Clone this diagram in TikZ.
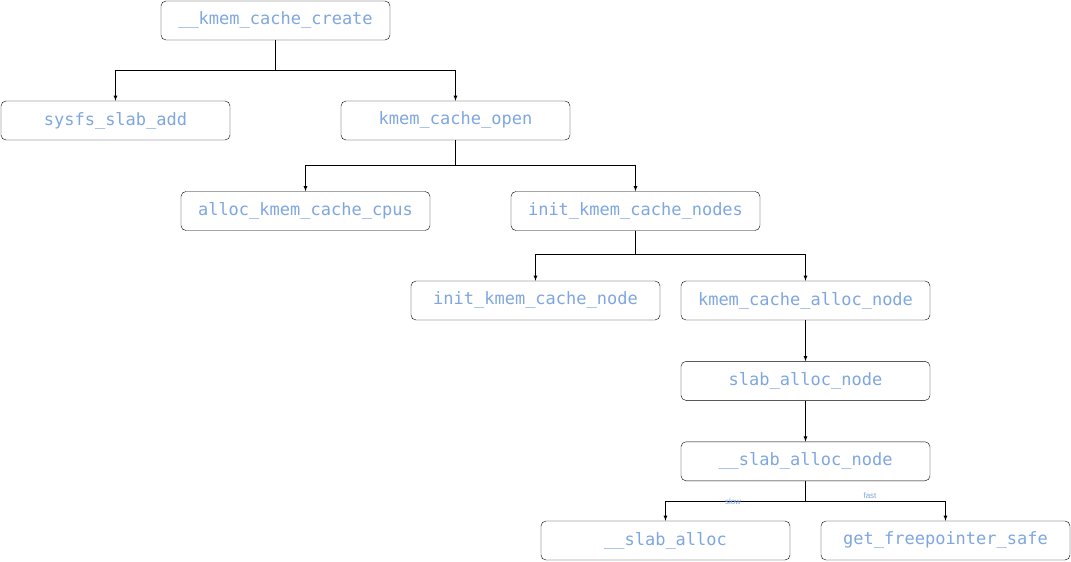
\documentclass[tikz,border=0pt]{standalone}
\usepackage{fontspec}
\setmainfont{Liberation Sans}
\newfontfamily\codefont{DejaVu Sans Mono}
\usetikzlibrary{positioning}
\definecolor{fnblue}{HTML}{7EA6E0}
\begin{document}
\begin{tikzpicture}[x=1pt,y=-1pt,
  fn/.style={draw, rounded corners=5pt, minimum width=249pt, minimum height=39pt,
    inner sep=0pt, text=fnblue, font=\codefont\fontsize{17}{17}\selectfont},
  call/.style={-latex, line width=0.8pt},
  tag/.style={text=fnblue, font=\fontsize{8}{8}\selectfont}]
\useasboundingbox (0,0) rectangle (1071,562);

\node[fn, minimum width=229pt] (create) at (275.5,20.5) {\_\_kmem\_cache\_create};
\node[fn, minimum width=229pt] (sysfs) at (115.5,120.5) {sysfs\_slab\_add};
\node[fn, minimum width=229pt] (open) at (455.5,120.5) {kmem\_cache\_open};
\node[fn] (cpus) at (305.5,211) {alloc\_kmem\_cache\_cpus};
\node[fn] (nodes) at (635.5,211) {init\_kmem\_cache\_nodes};
\node[fn] (initnode) at (535.5,300.5) {init\_kmem\_cache\_node};
\node[fn] (allocnode) at (805.5,300.5) {kmem\_cache\_alloc\_node};
\node[fn, below=41pt of allocnode] (slabnode) {slab\_alloc\_node};
\node[fn, below=41pt of slabnode] (uslabnode) {\_\_slab\_alloc\_node};
\node[fn] (slaballoc) at (665.5,540.5) {\_\_slab\_alloc};
\node[fn] (freeptr) at (945.5,540.5) {get\_freepointer\_safe};

% fork-shaped calls
\draw[call] (create.south) -- ++(0,30) -| (sysfs.north);
\draw[call] (create.south) -- ++(0,30) -| (open.north);
\draw[call] (open.south) -- ++(0,25) -| (cpus.north);
\draw[call] (open.south) -- ++(0,25) -| (nodes.north);
\draw[call] (nodes.south) -- ++(0,24) -| (initnode.north);
\draw[call] (nodes.south) -- ++(0,24) -| (allocnode.north);
\draw[call] (allocnode) -- (slabnode);
\draw[call] (slabnode) -- (uslabnode);
\draw[call] (uslabnode.south) -- ++(0,20) -| (slaballoc.north);
\draw[call] (uslabnode.south) -- ++(0,20) -| (freeptr.north);

\node[tag] (slow) at (733,501.5) {slow};
\node[tag] (fast) at (870,495.5) {fast};
\end{tikzpicture}
\end{document}
